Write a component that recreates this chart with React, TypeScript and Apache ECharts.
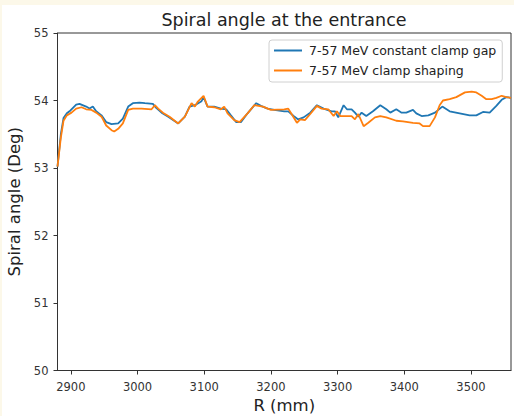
import React, { useEffect, useRef } from "react";
import * as echarts from "echarts";

const TITLE = "Spiral angle at the entrance";
const X_NAME = "R (mm)";
const Y_NAME = "Spiral angle (Deg)";
const SERIES_NAMES = ["7-57 MeV constant clamp gap", "7-57 MeV clamp shaping"];
const SERIES_COLORS = ["#1f77b4", "#ff7f0e"];
const X_TICKS = [2900, 3000, 3100, 3200, 3300, 3400, 3500];
const X_RANGE = [2880, 3560];
const Y_RANGE = [50, 55];

const constantGap: [number, number][] = [
  [2880, 53.02], [2885, 53.5], [2889, 53.74], [2894, 53.81], [2898, 53.84], [2908, 53.94],
  [2913, 53.95], [2923, 53.91], [2928, 53.88], [2933, 53.91], [2938, 53.84], [2946, 53.78],
  [2953, 53.68], [2961, 53.65], [2971, 53.66], [2978, 53.73], [2986, 53.91], [2993, 53.96],
  [3003, 53.97], [3011, 53.96], [3023, 53.95], [3028, 53.89], [3036, 53.82], [3046, 53.76],
  [3061, 53.66], [3071, 53.76], [3078, 53.91], [3086, 53.93], [3096, 53.99], [3099, 54.05],
  [3105, 53.91], [3115, 53.91], [3125, 53.88], [3133, 53.87], [3140, 53.78], [3148, 53.68],
  [3155, 53.68], [3165, 53.81], [3178, 53.96], [3185, 53.92], [3195, 53.88], [3205, 53.86],
  [3220, 53.84], [3226, 53.84], [3234, 53.77], [3241, 53.72], [3249, 53.75], [3259, 53.82],
  [3269, 53.93], [3279, 53.88], [3291, 53.84], [3296, 53.84], [3301, 53.75], [3309, 53.93],
  [3314, 53.87], [3321, 53.87], [3326, 53.82], [3331, 53.76], [3336, 53.82], [3343, 53.77],
  [3353, 53.84], [3364, 53.93], [3373, 53.87], [3379, 53.82], [3388, 53.87], [3396, 53.82],
  [3403, 53.82], [3413, 53.86], [3418, 53.81], [3426, 53.77], [3436, 53.78], [3446, 53.82],
  [3457, 53.91], [3468, 53.84], [3483, 53.81], [3498, 53.78], [3508, 53.78], [3518, 53.83],
  [3528, 53.82], [3538, 53.92], [3546, 54.01], [3553, 54.05], [3560, 54.04],
];

const clampShaping: [number, number][] = [
  [2880, 53.02], [2885, 53.45], [2889, 53.7], [2894, 53.78], [2901, 53.82], [2908, 53.88],
  [2916, 53.9], [2923, 53.87], [2931, 53.86], [2938, 53.82], [2946, 53.76], [2953, 53.63],
  [2961, 53.56], [2965, 53.54], [2971, 53.58], [2978, 53.66], [2986, 53.86], [2993, 53.88],
  [3006, 53.88], [3021, 53.87], [3026, 53.93], [3031, 53.88], [3038, 53.82], [3048, 53.76],
  [3061, 53.66], [3071, 53.76], [3081, 53.96], [3086, 53.91], [3090, 53.98], [3099, 54.07],
  [3105, 53.91], [3115, 53.9], [3125, 53.87], [3130, 53.91], [3135, 53.81], [3145, 53.71],
  [3153, 53.68], [3165, 53.81], [3175, 53.93], [3188, 53.91], [3200, 53.86], [3220, 53.87],
  [3226, 53.88], [3231, 53.8], [3239, 53.67], [3244, 53.72], [3251, 53.71], [3259, 53.8],
  [3269, 53.92], [3276, 53.88], [3286, 53.87], [3294, 53.77], [3299, 53.84], [3304, 53.77],
  [3314, 53.77], [3321, 53.77], [3326, 53.72], [3331, 53.8], [3339, 53.62], [3346, 53.67],
  [3356, 53.75], [3364, 53.77], [3373, 53.75], [3388, 53.7], [3398, 53.69], [3413, 53.67],
  [3423, 53.66], [3428, 53.62], [3438, 53.62], [3446, 53.75], [3453, 53.93], [3458, 54.0],
  [3468, 54.02], [3478, 54.05], [3491, 54.12], [3501, 54.13], [3508, 54.12], [3516, 54.07],
  [3523, 54.02], [3531, 54.02], [3538, 54.04], [3546, 54.07], [3553, 54.05], [3560, 54.04],
];

const FONT = "DejaVu Sans";
const INK = "#333";

export default function App() {
  const ref = useRef<HTMLDivElement>(null);
  useEffect(() => {
    if (!ref.current) return;
    const chart = echarts.init(ref.current, null, { renderer: "svg" });
    chart.setOption({
      animation: false,
      textStyle: { fontFamily: FONT },
      graphic: [
        {
          type: "text",
          x: 282,
          y: 14.5,
          style: {
            text: TITLE,
            fontFamily: FONT,
            fontSize: 17.5,
            fill: "#222",
            textAlign: "center",
            textVerticalAlign: "middle",
          },
        },
      ],
      grid: {
        left: 55.5,
        top: 28,
        right: 3,
        bottom: 45.5,
        containLabel: false,
        outerBoundsMode: "none",
        show: true,
        borderColor: INK,
        borderWidth: 1,
        backgroundColor: "transparent",
      },
      legend: {
        orient: "vertical",
        left: 267,
        top: 35,
        data: SERIES_NAMES,
        icon: "rect",
        itemWidth: 28,
        itemHeight: 2,
        itemGap: 7,
        padding: [4, 6, 5, 5],
        borderColor: "#d0d0d0",
        borderWidth: 1,
        borderRadius: 3,
        backgroundColor: "#fff",
        textStyle: { fontFamily: FONT, fontSize: 12.5, color: "#222", padding: [0, 0, 0, 2] },
      },
      xAxis: {
        type: "value",
        min: X_RANGE[0],
        max: X_RANGE[1],
        name: X_NAME,
        nameLocation: "middle",
        nameGap: 24,
        nameTextStyle: { fontFamily: FONT, fontSize: 16.5, color: "#222" },
        axisLine: { show: true, onZero: false, lineStyle: { color: INK, width: 1 } },
        axisTick: { show: true, length: 4, lineStyle: { color: INK }, customValues: X_TICKS },
        axisLabel: {
          color: INK,
          fontSize: 11.5,
          fontFamily: FONT,
          margin: 10,
          customValues: X_TICKS,
          formatter: (v: number) => String(v),
        },
        splitLine: { show: false },
      },
      yAxis: {
        type: "value",
        min: Y_RANGE[0],
        max: Y_RANGE[1],
        interval: 1,
        name: Y_NAME,
        nameLocation: "middle",
        nameGap: 30,
        nameTextStyle: { fontFamily: FONT, fontSize: 16.5, color: "#222" },
        axisLine: { show: true, onZero: false, lineStyle: { color: INK, width: 1 } },
        axisTick: { show: true, length: 4, lineStyle: { color: INK } },
        axisLabel: { color: INK, fontSize: 11.5, fontFamily: FONT, margin: 9 },
        splitLine: { show: false },
      },
      series: [
        {
          name: SERIES_NAMES[0],
          type: "line",
          data: constantGap,
          symbol: "none",
          showSymbol: false,
          color: SERIES_COLORS[0],
          lineStyle: { width: 1.8, color: SERIES_COLORS[0] },
        },
        {
          name: SERIES_NAMES[1],
          type: "line",
          data: clampShaping,
          symbol: "none",
          showSymbol: false,
          color: SERIES_COLORS[1],
          lineStyle: { width: 1.8, color: SERIES_COLORS[1] },
        },
      ],
    });
    return () => chart.dispose();
  }, []);
  return (
    <div style={{ position: "fixed", left: 0, top: 0, width: 514, height: 416, background: "#fcf8e9" }}>
      <div
        ref={ref}
        style={{ position: "absolute", left: 2, top: 5, width: 512, height: 411, background: "#fff" }}
      />
    </div>
  );
}
